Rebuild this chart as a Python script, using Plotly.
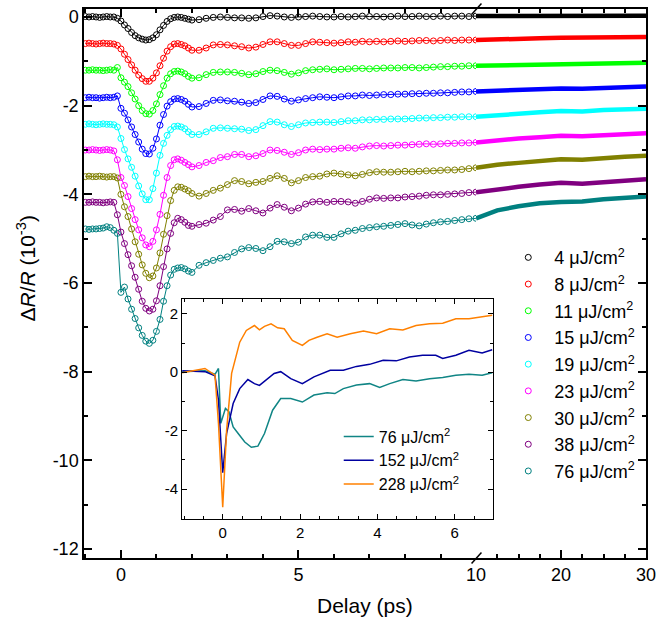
import plotly.graph_objects as go

# Pump fluences (µJ/cm²) and the colour of each transient
fluences = [4, 8, 11, 15, 19, 23, 30, 38, 76]
colors = ["#000000", "#FF0000", "#00FF00", "#0000FF", "#00FFFF",
          "#FF00FF", "#808000", "#800080", "#008080"]
# Vertical offset applied to each transient for clarity (10^-3)
offsets = [0.0, -0.6, -1.2, -1.82, -2.42, -3.0, -3.6, -4.18, -4.76]

# Delay grid (ps) of the short-time window
t_short = [-1.0, -0.9, -0.8, -0.7, -0.6, -0.5, -0.4, -0.3, -0.2, -0.1,
           0.0, 0.1, 0.2, 0.3, 0.4, 0.5, 0.6, 0.7, 0.8, 0.9,
           1.0, 1.1, 1.2, 1.3, 1.4, 1.5, 1.6, 1.7, 1.8, 1.9, 2.0,
           2.2, 2.4, 2.6, 2.8, 3.0, 3.2, 3.4, 3.6, 3.8, 4.0,
           4.2, 4.4, 4.6, 4.8, 5.0, 5.2, 5.4, 5.6, 5.8, 6.0,
           6.2, 6.4, 6.6, 6.8, 7.0, 7.2, 7.4, 7.6, 7.8, 8.0,
           8.2, 8.4, 8.6, 8.8, 9.0, 9.2, 9.4, 9.6, 9.8, 10.0]
# Delay grid (ps) of the long-time window
t_long = [10.0, 12.5, 15.0, 17.5, 20.0, 22.5, 25.0, 27.5, 30.0]

# ΔR/R (10^-3), short-time window
dr_4 = [0.01, 0.0, 0.01, 0.0, -0.01, 0.0, 0.01, 0.0, 0.0, -0.03,
        -0.09, -0.18, -0.26, -0.35, -0.42, -0.47, -0.50, -0.52, -0.51, -0.47,
        -0.40, -0.29, -0.19, -0.10, -0.04, -0.01, 0.0, -0.01, -0.03, -0.05, -0.07,
        -0.06, -0.03, -0.01, 0.0, -0.01, -0.02, -0.02, -0.03, -0.02, 0.01,
        0.03, 0.02, 0.0, -0.01, 0.0, 0.01, 0.02, 0.01, 0.0, 0.0,
        0.01, 0.0, 0.01, 0.02, 0.01, 0.01, 0.0, 0.01, 0.02, 0.01,
        0.01, 0.02, 0.01, 0.01, 0.02, 0.01, 0.02, 0.02, 0.01, 0.02]
dr_8 = [0.0, 0.01, 0.0, -0.01, 0.0, 0.01, 0.0, 0.0, -0.01, -0.04,
        -0.12, -0.24, -0.36, -0.48, -0.60, -0.71, -0.79, -0.85, -0.85, -0.78,
        -0.66, -0.50, -0.33, -0.17, -0.07, -0.01, 0.0, -0.02, -0.05, -0.10, -0.15,
        -0.15, -0.10, -0.03, -0.02, -0.03, -0.05, -0.07, -0.10, -0.08, -0.02,
        0.04, 0.04, 0.0, -0.04, -0.04, 0.0, 0.04, 0.03, 0.02, 0.01,
        0.02, 0.04, 0.03, 0.05, 0.04, 0.05, 0.04, 0.05, 0.06, 0.05,
        0.06, 0.07, 0.07, 0.06, 0.07, 0.08, 0.07, 0.08, 0.08, 0.08]
dr_11 = [0.0, 0.0, 0.01, 0.0, 0.0, -0.01, 0.0, 0.01, 0.0, 0.06,
         -0.17, -0.27, -0.37, -0.51, -0.65, -0.80, -0.91, -0.98, -0.99, -0.91,
         -0.76, -0.55, -0.35, -0.18, -0.08, -0.03, -0.02, -0.04, -0.08, -0.14, -0.18,
         -0.17, -0.10, -0.05, -0.04, -0.04, -0.05, -0.07, -0.10, -0.08, -0.03,
         0.0, -0.01, -0.05, -0.09, -0.06, -0.01, 0.01, 0.02, 0.03, 0.01,
         0.02, 0.03, 0.04, 0.04, 0.03, 0.04, 0.05, 0.05, 0.05, 0.06,
         0.06, 0.05, 0.06, 0.07, 0.08, 0.08, 0.09, 0.09, 0.10, 0.10]
dr_15 = [0.0, 0.01, 0.0, 0.0, -0.01, 0.0, 0.01, 0.0, 0.01, 0.04,
         -0.24, -0.35, -0.50, -0.66, -0.83, -1.00, -1.16, -1.26, -1.27, -1.14,
         -0.93, -0.62, -0.38, -0.19, -0.09, -0.03, -0.02, -0.04, -0.08, -0.15, -0.21,
         -0.20, -0.13, -0.06, -0.05, -0.07, -0.08, -0.10, -0.13, -0.11, -0.04,
         0.04, 0.03, -0.03, -0.08, -0.05, -0.02, 0.0, 0.02, 0.01, 0.0,
         0.02, 0.04, 0.04, 0.06, 0.05, 0.06, 0.07, 0.07, 0.08, 0.08,
         0.09, 0.09, 0.10, 0.10, 0.11, 0.11, 0.12, 0.13, 0.13, 0.14]
dr_19 = [0.0, 0.01, 0.0, -0.01, 0.0, 0.01, 0.0, 0.0, -0.01, -0.06,
         -0.32, -0.57, -0.78, -0.97, -1.17, -1.39, -1.57, -1.70, -1.70, -1.45,
         -1.10, -0.70, -0.43, -0.25, -0.12, -0.05, -0.04, -0.06, -0.10, -0.17, -0.23,
         -0.23, -0.17, -0.09, -0.08, -0.09, -0.10, -0.11, -0.14, -0.12, -0.03,
         0.06, 0.05, -0.01, -0.05, -0.01, 0.03, 0.04, 0.05, 0.05, 0.04,
         0.06, 0.08, 0.08, 0.10, 0.10, 0.11, 0.11, 0.12, 0.12, 0.12,
         0.13, 0.14, 0.14, 0.15, 0.15, 0.16, 0.16, 0.17, 0.17, 0.17]
dr_23 = [0.0, 0.0, 0.01, 0.0, -0.01, 0.0, 0.01, 0.0, -0.02, -0.22,
         -0.62, -0.80, -1.05, -1.32, -1.57, -1.80, -1.98, -2.14, -2.18, -2.06,
         -1.80, -1.45, -1.02, -0.62, -0.35, -0.22, -0.20, -0.23, -0.28, -0.33, -0.38,
         -0.35, -0.28, -0.24, -0.17, -0.15, -0.10, -0.10, -0.15, -0.13, -0.08,
         0.0, -0.01, -0.05, -0.10, -0.06, 0.0, 0.02, 0.01, 0.02, 0.02,
         0.04, 0.05, 0.04, 0.07, 0.09, 0.10, 0.09, 0.10, 0.11, 0.11,
         0.12, 0.13, 0.14, 0.13, 0.14, 0.15, 0.15, 0.16, 0.16, 0.17]
dr_30 = [0.0, 0.01, 0.0, 0.0, 0.01, 0.0, -0.01, 0.0, 0.0, -0.03,
         -0.40, -0.68, -0.90, -1.18, -1.47, -1.75, -1.99, -2.18, -2.28, -2.24,
         -2.06, -1.72, -1.30, -0.88, -0.54, -0.31, -0.23, -0.24, -0.28, -0.32, -0.38,
         -0.44, -0.38, -0.31, -0.26, -0.18, -0.09, -0.11, -0.16, -0.13, -0.11,
         -0.04, 0.02, -0.04, -0.14, -0.09, -0.02, 0.0, 0.01, 0.06, 0.08,
         0.06, 0.04, 0.02, 0.05, 0.09, 0.11, 0.10, 0.10, 0.11, 0.12,
         0.11, 0.12, 0.13, 0.13, 0.14, 0.15, 0.15, 0.16, 0.18, 0.20]
dr_38 = [0.0, 0.0, 0.01, 0.0, 0.0, -0.01, 0.0, 0.01, 0.0, -0.28,
         -0.67, -0.93, -1.18, -1.43, -1.69, -1.96, -2.23, -2.39, -2.45, -2.41,
         -2.22, -1.88, -1.45, -1.05, -0.70, -0.46, -0.36, -0.39, -0.45, -0.52, -0.54,
         -0.50, -0.47, -0.40, -0.32, -0.17, -0.16, -0.20, -0.14, -0.19, -0.24,
         -0.13, -0.05, -0.11, -0.19, -0.13, -0.04, 0.01, 0.02, 0.0, 0.02,
         0.02, 0.01, -0.02, 0.02, 0.07, 0.10, 0.09, 0.10, 0.10, 0.12,
         0.13, 0.14, 0.16, 0.17, 0.17, 0.18, 0.19, 0.20, 0.22, 0.23]
dr_76 = [-0.02, -0.03, -0.02, -0.02, -0.01, 0.0, 0.03, 0.01, -0.05, -0.12,
         -1.45, -1.33, -1.60, -1.83, -2.04, -2.25, -2.42, -2.55, -2.60, -2.53,
         -2.33, -2.06, -1.65, -1.30, -1.06, -0.93, -0.90, -0.89, -0.92, -0.97, -1.00,
         -0.84, -0.78, -0.73, -0.68, -0.65, -0.55, -0.47, -0.44, -0.46, -0.51,
         -0.42, -0.30, -0.31, -0.35, -0.32, -0.20, -0.16, -0.16, -0.21, -0.21,
         -0.13, -0.07, -0.05, -0.01, 0.01, 0.03, 0.04, 0.06, 0.08, 0.10,
         0.07, 0.05, 0.09, 0.12, 0.14, 0.15, 0.17, 0.19, 0.21, 0.22]

# ΔR/R (10^-3), long-time window
dl_4 = [0.02, 0.02, 0.02, 0.02, 0.03, 0.02, 0.03, 0.03, 0.03]
dl_8 = [0.08, 0.10, 0.11, 0.12, 0.13, 0.13, 0.14, 0.15, 0.15]
dl_11 = [0.10, 0.11, 0.12, 0.13, 0.15, 0.14, 0.15, 0.16, 0.17]
dl_15 = [0.14, 0.16, 0.18, 0.19, 0.21, 0.20, 0.22, 0.24, 0.25]
dl_19 = [0.17, 0.21, 0.24, 0.27, 0.30, 0.29, 0.32, 0.34, 0.35]
dl_23 = [0.17, 0.22, 0.26, 0.29, 0.32, 0.31, 0.34, 0.36, 0.38]
dl_30 = [0.20, 0.27, 0.31, 0.35, 0.39, 0.38, 0.42, 0.45, 0.47]
dl_38 = [0.23, 0.30, 0.35, 0.40, 0.44, 0.42, 0.46, 0.49, 0.52]
dl_76 = [0.22, 0.40, 0.49, 0.56, 0.59, 0.60, 0.65, 0.68, 0.71]

short_series = [dr_4, dr_8, dr_11, dr_15, dr_19, dr_23, dr_30, dr_38, dr_76]
long_series = [dl_4, dl_8, dl_11, dl_15, dl_19, dl_23, dl_30, dl_38, dl_76]

# Inset: high-fluence transients (no offset)
inset_fluences = [76, 152, 228]
inset_colors = ["#108585", "#0000A0", "#FF8000"]
ti_76 = [-1.05, -0.46, -0.2, -0.11, -0.05, 0.07, 0.16, 0.27, 0.4, 0.57,
         0.74, 0.91, 1.08, 1.29, 1.5, 1.76, 2.06, 2.36, 2.7, 2.9,
         3.12, 3.46, 3.8, 4.06, 4.32, 4.66, 5.0, 5.35, 5.69, 6.03,
         6.37, 6.71, 6.97]
yi_76 = [0.02, 0.05, -0.07, 0.13, -1.75, -1.24, -1.35, -1.87, -2.1, -2.39,
         -2.57, -2.53, -2.1, -1.3, -0.9, -0.9, -1.02, -0.78, -0.7, -0.73,
         -0.56, -0.44, -0.39, -0.52, -0.39, -0.25, -0.3, -0.22, -0.18, -0.1,
         -0.07, -0.1, -0.02]
ti_152 = [-1.05, -0.46, -0.2, -0.11, 0.0, 0.1, 0.27, 0.44, 0.65, 0.82,
          0.95, 1.12, 1.33, 1.5, 1.76, 2.06, 2.36, 2.78, 3.12, 3.46,
          3.8, 4.15, 4.49, 4.83, 5.17, 5.51, 5.69, 6.03, 6.37, 6.71,
          6.97]
yi_152 = [0.05, 0.02, -0.12, -0.95, -3.44, -2.1, -1.07, -0.56, -0.25, -0.39,
          -0.45, -0.28, -0.04, 0.02, -0.22, -0.39, -0.16, 0.07, 0.07, 0.2,
          0.27, 0.41, 0.39, 0.52, 0.58, 0.58, 0.47, 0.58, 0.75, 0.66,
          0.77]
ti_228 = [-1.05, -0.46, -0.2, -0.11, 0.0, 0.1, 0.23, 0.44, 0.61, 0.82,
          0.95, 1.08, 1.25, 1.42, 1.59, 1.8, 2.06, 2.23, 2.44, 2.7,
          2.96, 3.3, 3.64, 3.98, 4.32, 4.66, 5.0, 5.35, 5.69, 6.03,
          6.37, 6.97]
yi_228 = [-0.02, 0.13, -0.1, -1.75, -4.62, -2.0, -0.04, 1.03, 1.43, 1.6,
          1.45, 1.57, 1.66, 1.52, 1.49, 1.09, 0.92, 1.09, 1.2, 1.32,
          1.2, 1.32, 1.41, 1.32, 1.49, 1.45, 1.6, 1.66, 1.68, 1.83,
          1.83, 1.95]
inset_t = [ti_76, ti_152, ti_228]
inset_y = [yi_76, yi_152, yi_228]

FONT = "Arial, 'Liberation Sans', sans-serif"
W, H = 663, 632
ML, MR, MT, MB = 84, 12, 7, 74
PW, PH = W - ML - MR, H - MT - MB
XBREAK = (479.5 - ML) / PW          # paper position of the axis break

fig = go.Figure()

for f, c, off, ys, yl in zip(fluences, colors, offsets, short_series, long_series):
    y_short = [v + off for v in ys]
    y_long = [v + off for v in yl]
    fig.add_trace(go.Scatter(x=t_short, y=y_short, mode="lines",
                             line=dict(color=c, width=1), showlegend=False,
                             xaxis="x", yaxis="y", hoverinfo="skip"))
    fig.add_trace(go.Scatter(x=t_short, y=y_short, mode="markers",
                             marker=dict(symbol="circle-open", size=6, color=c,
                                         line=dict(width=1, color=c)),
                             name=f"{f} μJ/cm<sup>2</sup>", legend="legend",
                             legendgroup=f"f{f}",
                             xaxis="x", yaxis="y"))
    fig.add_trace(go.Scatter(x=t_long, y=y_long, mode="lines",
                             line=dict(color=c, width=4.5), showlegend=False,
                             xaxis="x2", yaxis="y2"))

for f, c, ti, yi in zip(inset_fluences, inset_colors, inset_t, inset_y):
    fig.add_trace(go.Scatter(x=ti, y=yi, mode="lines",
                             line=dict(color=c, width=1.5),
                             name=f"{f} μJ/cm<sup>2</sup>", legend="legend2",
                             xaxis="x3", yaxis="y3"))

tick_font = dict(family=FONT, size=18, color="black")
axis_common = dict(showline=True, linecolor="black", linewidth=1.5,
                   ticks="inside", tickcolor="black", tickwidth=1.5, ticklen=8,
                   showgrid=False, zeroline=False, tickfont=tick_font)

y_range = [-12.2, 0.18]
y_ticks = [-12, -10, -8, -6, -4, -2, 0]
y_text = ["-12", "-10", "-8", "-6", "-4", "-2", "0"]

fig.update_layout(
    width=W, height=H,
    margin=dict(l=ML, r=MR, t=MT, b=MB),
    plot_bgcolor="white", paper_bgcolor="white",
    font=dict(family=FONT, color="black"),
    xaxis=dict(domain=[0, XBREAK], range=[-1.04, 10], anchor="y",
               tickvals=[0, 5], ticktext=["0", "5"], mirror="allticks",
               minor=dict(ticks="inside", ticklen=4, tickwidth=1.5,
                          tickcolor="black", tick0=0, dtick=1),
               **axis_common),
    xaxis2=dict(domain=[XBREAK, 1], range=[10, 30], anchor="y2",
                tickvals=[10, 20, 30], ticktext=["10", "20", "30"],
                mirror="allticks",
                minor=dict(ticks="inside", ticklen=4, tickwidth=1.5,
                           tickcolor="black", tick0=10, dtick=2.5),
                **axis_common),
    yaxis=dict(range=y_range, anchor="x", tickvals=y_ticks, ticktext=y_text,
               minor=dict(ticks="inside", ticklen=4, tickwidth=1.5,
                          tickcolor="black", tick0=0, dtick=1),
               **axis_common),
    yaxis2=dict(range=y_range, anchor="x2", overlaying="y", side="right",
                tickvals=y_ticks, showticklabels=False,
                minor=dict(ticks="inside", ticklen=4, tickwidth=1.5,
                           tickcolor="black", tick0=0, dtick=1),
                **axis_common),
    xaxis3=dict(domain=[(183 - ML) / PW, (497 - ML) / PW], range=[-1.05, 7.0],
                anchor="y3", tickvals=[0, 2, 4, 6], ticktext=["0", "2", "4", "6"],
                mirror="allticks", showline=True, linecolor="black", linewidth=1.2,
                ticks="inside", ticklen=5, tickwidth=1, tickcolor="black",
                showgrid=False, zeroline=False,
                tickfont=dict(family=FONT, size=15, color="black"),
                minor=dict(ticks="inside", ticklen=3, tickwidth=1,
                           tickcolor="black", tick0=0, dtick=0.5)),
    yaxis3=dict(domain=[1 - (519 - MT) / PH, 1 - (298 - MT) / PH],
                range=[-5.03, 2.51], anchor="x3",
                tickvals=[-4, -2, 0, 2], ticktext=["-4", "-2", "0", "2"],
                mirror="allticks", showline=True, linecolor="black", linewidth=1.2,
                ticks="inside", ticklen=5, tickwidth=1, tickcolor="black",
                showgrid=False, zeroline=False,
                tickfont=dict(family=FONT, size=15, color="black"),
                minor=dict(ticks="inside", ticklen=3, tickwidth=1,
                           tickcolor="black", tick0=0, dtick=1)),
    legend=dict(x=(506 - ML) / PW, y=1 - (238 - MT) / PH,
                xanchor="left", yanchor="top", bgcolor="rgba(0,0,0,0)",
                font=dict(family=FONT, size=18, color="black"),
                tracegroupgap=0.3, itemwidth=42),
    legend2=dict(x=(341 - ML) / PW, y=1 - (419 - MT) / PH,
                 xanchor="left", yanchor="top", bgcolor="rgba(0,0,0,0)",
                 font=dict(family=FONT, size=16, color="black"),
                 tracegroupgap=0, itemwidth=30),
    showlegend=True,
)

# Axis titles
fig.add_annotation(text="Delay (ps)", xref="paper", yref="paper",
                   x=0.5, y=1 - (606 - MT) / PH, showarrow=False,
                   xanchor="center", yanchor="middle",
                   font=dict(family=FONT, size=21, color="black"))
fig.add_annotation(text="Δ<i>R</i>/<i>R</i> (10<sup>-3</sup>)",
                   xref="paper", yref="paper", textangle=-90,
                   x=(26 - ML) / PW, y=1 - (268 - MT) / PH, showarrow=False,
                   xanchor="center", yanchor="middle",
                   font=dict(family=FONT, size=21, color="black"))

# Break marks on the bottom and top axes
dx0, dx1 = 4.5 / PW, 5.5 / PW
dy = 5.5 / PH
for yb in (0, 1):
    fig.add_shape(type="line", xref="paper", yref="paper",
                  x0=XBREAK - dx0, y0=yb - dy, x1=XBREAK + dx1, y1=yb + dy,
                  line=dict(color="black", width=1.5))

fig.write_html("out.html")
